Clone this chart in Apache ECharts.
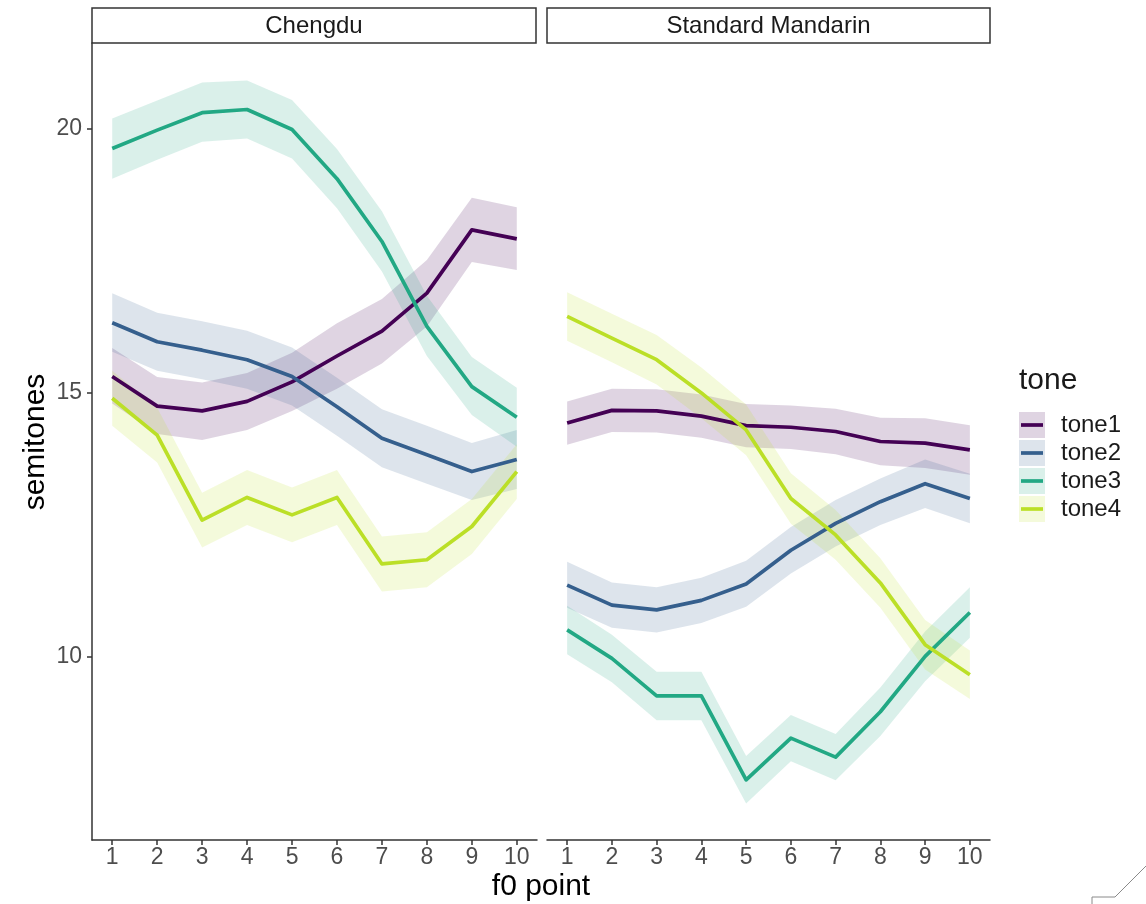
<!DOCTYPE html>
<html><head><meta charset="utf-8">
<script src="https://cdn.jsdelivr.net/npm/echarts@6/dist/echarts.min.js"></script>
<style>html,body{margin:0;padding:0;background:#fff}#c{width:1146px;height:904px}</style>
</head><body><div id="c"></div>
<script>
// ---------- data ----------
const fPoints = [1, 2, 3, 4, 5, 6, 7, 8, 9, 10];
const tones = ['tone1', 'tone2', 'tone3', 'tone4'];
const facets = ['Chengdu', 'Standard Mandarin'];
const yTicks = [10, 15, 20];

// Chengdu
const cdTone1   = [15.31, 14.75, 14.66, 14.84, 15.21, 15.70, 16.17, 16.89, 18.09, 17.92];
const cdTone1Lo = [14.80, 14.22, 14.11, 14.30, 14.66, 15.08, 15.56, 16.26, 17.48, 17.33];
const cdTone1Hi = [15.85, 15.30, 15.20, 15.38, 15.76, 16.32, 16.78, 17.52, 18.70, 18.52];
const cdTone2   = [16.33, 15.97, 15.81, 15.63, 15.31, 14.74, 14.14, 13.83, 13.51, 13.74];
const cdTone2Lo = [15.78, 15.42, 15.26, 15.08, 14.76, 14.19, 13.59, 13.28, 12.97, 13.18];
const cdTone2Hi = [16.89, 16.52, 16.36, 16.18, 15.86, 15.29, 14.69, 14.38, 14.05, 14.30];
const cdTone3   = [19.63, 19.98, 20.31, 20.37, 19.99, 19.06, 17.87, 16.26, 15.12, 14.54];
const cdTone3Lo = [19.06, 19.42, 19.76, 19.82, 19.44, 18.50, 17.30, 15.70, 14.58, 13.98];
const cdTone3Hi = [20.20, 20.54, 20.88, 20.92, 20.55, 19.62, 18.44, 16.84, 15.68, 15.10];
const cdTone4   = [14.90, 14.20, 12.59, 13.02, 12.69, 13.02, 11.76, 11.84, 12.47, 13.51];
const cdTone4Lo = [14.38, 13.68, 12.07, 12.50, 12.17, 12.50, 11.24, 11.32, 11.95, 12.99];
const cdTone4Hi = [15.42, 14.72, 13.11, 13.54, 13.21, 13.54, 12.28, 12.36, 12.99, 14.03];

// Standard Mandarin
const smTone1   = [14.43, 14.67, 14.66, 14.56, 14.38, 14.35, 14.27, 14.08, 14.05, 13.92];
const smTone1Lo = [14.02, 14.26, 14.25, 14.15, 13.97, 13.94, 13.84, 13.63, 13.58, 13.45];
const smTone1Hi = [14.84, 15.08, 15.07, 14.97, 14.79, 14.76, 14.70, 14.53, 14.52, 14.39];
const smTone2   = [11.36, 10.98, 10.89, 11.07, 11.38, 12.02, 12.53, 12.94, 13.28, 13.00];
const smTone2Lo = [10.93, 10.55, 10.46, 10.64, 10.95, 11.58, 12.09, 12.50, 12.82, 12.53];
const smTone2Hi = [11.80, 11.41, 11.32, 11.50, 11.82, 12.46, 12.97, 13.38, 13.74, 13.47];
const smTone3   = [10.51, 9.97, 9.26, 9.26, 7.67, 8.46, 8.10, 8.96, 10.01, 10.84];
const smTone3Lo = [10.05, 9.52, 8.80, 8.80, 7.22, 8.02, 7.66, 8.50, 9.54, 10.36];
const smTone3Hi = [10.97, 10.42, 9.72, 9.72, 8.12, 8.90, 8.54, 9.42, 10.48, 11.32];
const smTone4   = [16.45, 16.04, 15.63, 15.00, 14.30, 13.00, 12.31, 11.40, 10.23, 9.66];
const smTone4Lo = [15.99, 15.58, 15.16, 14.52, 13.82, 12.52, 11.84, 10.93, 9.76, 9.20];
const smTone4Hi = [16.91, 16.50, 16.10, 15.48, 14.78, 13.48, 12.78, 11.87, 10.70, 10.12];

// ---------- styling ----------
const colors = ['#440154', '#355F8D', '#22A884', '#BBDF27'];
const bandAlpha = 0.17;
function rgba(hex, a) {
  const n = parseInt(hex.slice(1), 16);
  return 'rgba(' + ((n >> 16) & 255) + ',' + ((n >> 8) & 255) + ',' + (n & 255) + ',' + a + ')';
}
const FONT = '"Liberation Sans", Arial, sans-serif';

const facetData = [
  { mid: [cdTone1, cdTone2, cdTone3, cdTone4], lo: [cdTone1Lo, cdTone2Lo, cdTone3Lo, cdTone4Lo], hi: [cdTone1Hi, cdTone2Hi, cdTone3Hi, cdTone4Hi] },
  { mid: [smTone1, smTone2, smTone3, smTone4], lo: [smTone1Lo, smTone2Lo, smTone3Lo, smTone4Lo], hi: [smTone1Hi, smTone2Hi, smTone3Hi, smTone4Hi] }
];

const series = [];
facetData.forEach(function (fd, f) {
  tones.forEach(function (tn, t) {
    const col = colors[t];
    series.push({
      type: 'custom', name: tn + ' band', xAxisIndex: f, yAxisIndex: f, silent: true,
      encode: { x: 0, y: [1, 2] },
      data: fPoints.map(function (x, i) { return [x, fd.lo[t][i], fd.hi[t][i]]; }),
      renderItem: function (params, api) {
        if (params.dataIndexInside !== 0) return null;
        const n = params.dataInsideLength;
        const up = [], dn = [];
        for (let i = 0; i < n; i++) {
          up.push(api.coord([api.value(0, i), api.value(2, i)]));
          dn.push(api.coord([api.value(0, i), api.value(1, i)]));
        }
        return { type: 'polygon', shape: { points: up.concat(dn.reverse()) }, style: { fill: rgba(col, bandAlpha) } };
      }
    });
    series.push({
      type: 'line', name: tn, xAxisIndex: f, yAxisIndex: f, silent: true,
      symbol: 'none', smooth: false,
      lineStyle: { color: col, width: 3.7, join: 'round', cap: 'butt' },
      itemStyle: { color: col },
      data: fPoints.map(function (x, i) { return [x, fd.mid[t][i]]; })
    });
  });
});

const axisLineStyle = { color: '#333333', width: 1.5 };
function xAxis(idx) {
  return {
    type: 'value', gridIndex: idx, min: 0.55, max: 10.45,
    axisLine: { show: true, onZero: false, lineStyle: axisLineStyle },
    axisTick: { show: true, length: 5, lineStyle: axisLineStyle, customValues: fPoints },
    axisLabel: { show: true, customValues: fPoints, color: '#4d4d4d', fontSize: 23, fontFamily: FONT, margin: 6 },
    splitLine: { show: false }
  };
}
function yAxis(idx) {
  const show = idx === 0;
  return {
    type: 'value', gridIndex: idx, min: 6.53, max: 21.63,
    axisLine: { show: show, onZero: false, lineStyle: axisLineStyle },
    axisTick: { show: show, length: 5, lineStyle: axisLineStyle, customValues: yTicks },
    axisLabel: { show: show, customValues: yTicks, color: '#4d4d4d', fontSize: 23, fontFamily: FONT, margin: 10 },
    splitLine: { show: false }
  };
}

// legend keys built from the tones list
const legendGraphics = [
  { type: 'text', left: 1019, top: 366, style: { text: 'tone', fontSize: 30, fontFamily: FONT, fill: '#1a1a1a' } }
];
tones.forEach(function (tn, t) {
  const cy = 425 + t * 28;
  legendGraphics.push({ type: 'rect', shape: { x: 1019, y: cy - 13, width: 26, height: 26 }, style: { fill: rgba(colors[t], bandAlpha) } });
  legendGraphics.push({ type: 'line', shape: { x1: 1021, y1: cy, x2: 1043, y2: cy }, style: { stroke: colors[t], lineWidth: 3.7 } });
  legendGraphics.push({ type: 'text', x: 1061, y: cy, style: { text: tn, fontSize: 24, fontFamily: FONT, fill: '#1a1a1a', textVerticalAlign: 'middle', verticalAlign: 'middle' } });
});

const stripGraphics = [];
const stripBoxes = [[92, 444], [547, 443]];
facets.forEach(function (name, f) {
  const b = stripBoxes[f];
  stripGraphics.push({ type: 'rect', shape: { x: b[0], y: 8, width: b[1], height: 35 }, style: { fill: '#ffffff', stroke: '#333333', lineWidth: 1.5 } });
  stripGraphics.push({ type: 'text', x: b[0] + b[1] / 2, y: 26, style: { text: name, fontSize: 24, fontFamily: FONT, fill: '#1a1a1a', textAlign: 'center', textVerticalAlign: 'middle', align: 'center', verticalAlign: 'middle' } });
});

const titleGraphics = [
  { type: 'text', x: 36, y: 442, rotation: Math.PI / 2, style: { text: 'semitones', fontSize: 30, fontFamily: FONT, fill: '#000', textAlign: 'center', textVerticalAlign: 'middle', align: 'center', verticalAlign: 'middle' } },
  { type: 'text', x: 541, y: 887, style: { text: 'f0 point', fontSize: 30, fontFamily: FONT, fill: '#000', textAlign: 'center', textVerticalAlign: 'middle', align: 'center', verticalAlign: 'middle' } },
  { type: 'polyline', shape: { points: [[1092, 904], [1092, 897], [1115, 897], [1146, 866]] }, style: { stroke: '#8a8a8a', lineWidth: 1, fill: null } }
];

const chart = echarts.init(document.getElementById('c'), null, { renderer: 'canvas' });
chart.setOption({
  animation: false,
  backgroundColor: '#ffffff',
  grid: [
    { left: 92, top: 43, width: 445, height: 797, outerBoundsMode: 'none', containLabel: false },
    { left: 547, top: 43, width: 443, height: 797, outerBoundsMode: 'none', containLabel: false }
  ],
  xAxis: [xAxis(0), xAxis(1)],
  yAxis: [yAxis(0), yAxis(1)],
  series: series,
  graphic: stripGraphics.concat(legendGraphics, titleGraphics)
});
</script></body></html>
